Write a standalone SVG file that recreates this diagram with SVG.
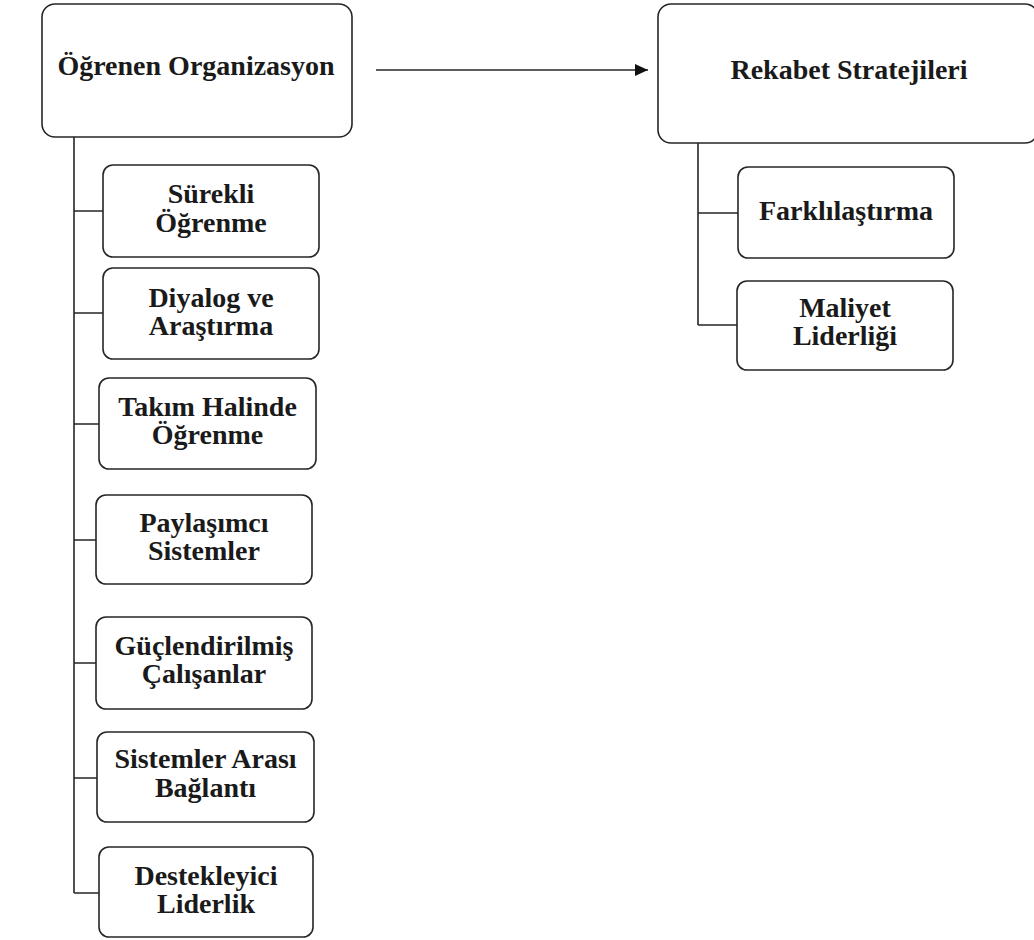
<svg xmlns="http://www.w3.org/2000/svg" width="1034" height="940" viewBox="0 0 1034 940">
<style>
.box{fill:#fff;stroke:#262626;stroke-width:1.6}
.lbl{font-family:"Liberation Serif","Times New Roman",serif;font-weight:bold;font-size:28px;fill:#1a1a1a;text-anchor:middle}
.ln{fill:none;stroke:#262626;stroke-width:1.6}
</style>
<defs>
<marker id="ah" markerWidth="14" markerHeight="12" refX="13" refY="6" orient="auto" markerUnits="userSpaceOnUse">
<path d="M0,0 L13,6 L0,12 Z" fill="#111"/>
</marker>
</defs>
<rect width="1034" height="940" fill="#fff"/>
<g id="connectors">
<line class="ln" x1="376" y1="70" x2="648" y2="70" marker-end="url(#ah)"/>
<path class="ln" d="M74,137 V893 M74,211 H103 M74,313 H103 M74,424 H99 M74,540 H96 M74,663 H96 M74,778 H97 M74,893 H99"/>
<path class="ln" d="M698,143 V325 M698,213 H738 M698,325 H737"/>
</g>
<g id="n-ogrenen">
<rect class="box" x="42" y="4" width="310" height="133" rx="13"/>
<text class="lbl" x="196" y="75">Öğrenen Organizasyon</text>
</g>
<g id="n-rekabet">
<rect class="box" x="658" y="4" width="380" height="139" rx="13"/>
<text class="lbl" x="849" y="79">Rekabet Stratejileri</text>
</g>
<g id="n-surekli">
<rect class="box" x="103" y="165" width="216" height="92" rx="10"/>
<text class="lbl" x="211" y="203">Sürekli</text>
<text class="lbl" x="211" y="232">Öğrenme</text>
</g>
<g id="n-diyalog">
<rect class="box" x="103" y="268" width="216" height="91" rx="10"/>
<text class="lbl" x="211" y="307">Diyalog ve</text>
<text class="lbl" x="211" y="335">Araştırma</text>
</g>
<g id="n-takim">
<rect class="box" x="99" y="378" width="217" height="91" rx="10"/>
<text class="lbl" x="207.5" y="416">Takım Halinde</text>
<text class="lbl" x="207.5" y="444">Öğrenme</text>
</g>
<g id="n-paylasimci">
<rect class="box" x="96" y="495" width="216" height="89" rx="10"/>
<text class="lbl" x="204" y="532">Paylaşımcı</text>
<text class="lbl" x="204" y="560">Sistemler</text>
</g>
<g id="n-guclendirilmis">
<rect class="box" x="96" y="617" width="216" height="92" rx="10"/>
<text class="lbl" x="204" y="655">Güçlendirilmiş</text>
<text class="lbl" x="204" y="683">Çalışanlar</text>
</g>
<g id="n-sistemler">
<rect class="box" x="97" y="732" width="217" height="90" rx="10"/>
<text class="lbl" x="205.5" y="768">Sistemler Arası</text>
<text class="lbl" x="205.5" y="797">Bağlantı</text>
</g>
<g id="n-destekleyici">
<rect class="box" x="99" y="847" width="214" height="90" rx="10"/>
<text class="lbl" x="206" y="885">Destekleyici</text>
<text class="lbl" x="206" y="913">Liderlik</text>
</g>
<g id="n-farklilastirma">
<rect class="box" x="738" y="167" width="216" height="91" rx="10"/>
<text class="lbl" x="846" y="220">Farklılaştırma</text>
</g>
<g id="n-maliyet">
<rect class="box" x="737" y="281" width="216" height="89" rx="10"/>
<text class="lbl" x="845" y="317">Maliyet</text>
<text class="lbl" x="845" y="345">Liderliği</text>
</g>
</svg>
